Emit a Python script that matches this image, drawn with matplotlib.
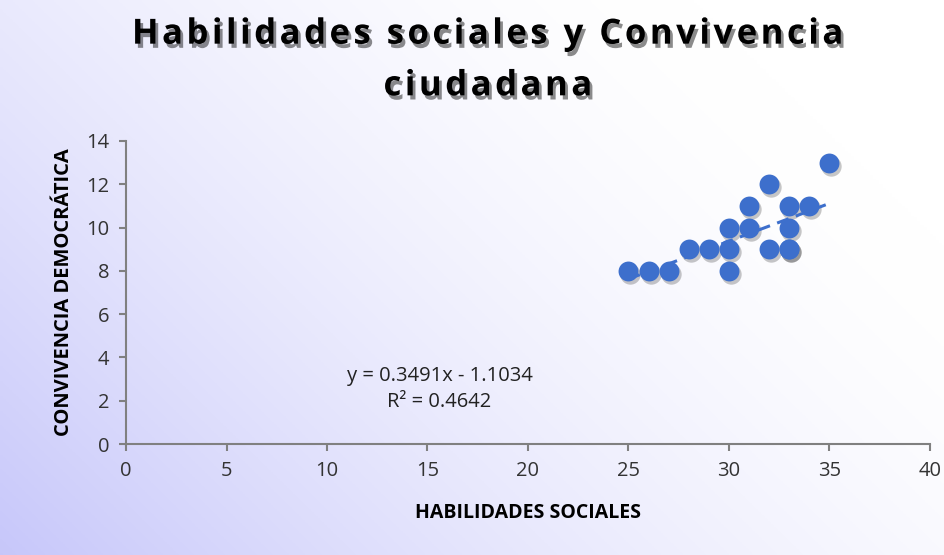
import matplotlib.pyplot as plt
import matplotlib.patheffects as pe
import matplotlib.transforms as mtransforms
import numpy as np

# Datos
habilidades = [25, 26, 27, 28, 29, 30, 30, 30, 31, 31, 32, 32, 33, 33, 33, 33, 34, 35]
convivencia = [8, 8, 8, 9, 9, 9, 10, 8, 10, 11, 12, 9, 9, 9, 10, 11, 11, 13]

# Línea de tendencia (Excel)
pendiente = 0.3491
intercepto = -1.1034
r2 = 0.4642

x_ticks = [0, 5, 10, 15, 20, 25, 30, 35, 40]
y_ticks = [0, 2, 4, 6, 8, 10, 12, 14]

fuente = ['Open Sans', 'DejaVu Sans']

fig = plt.figure(figsize=(9.44, 5.55), dpi=100)

# Fondo degradado (lila abajo-izquierda -> blanco arriba-derecha)
bg = fig.add_axes([0, 0, 1, 1], zorder=-1)
gx, gy = np.meshgrid(np.linspace(0, 1, 300), np.linspace(0, 1, 300))
t = np.clip(1 - (0.75 * gx + 0.45 * gy), 0, 1) ** 1.6
img = np.zeros((300, 300, 3))
img[..., 0] = 1 - t * (1 - 0.78)
img[..., 1] = 1 - t * (1 - 0.78)
img[..., 2] = 1 - t * (1 - 0.98)
bg.imshow(img, origin='lower', extent=[0, 1, 0, 1], aspect='auto')
bg.axis('off')

ax = fig.add_axes([0.1335, 0.2, 0.8515, 0.546])
ax.patch.set_alpha(0)

# sombra de los puntos
sombra = mtransforms.offset_copy(ax.transData, fig=fig, x=2, y=-3, units='dots')
ax.scatter(habilidades, convivencia, s=215, color='black', alpha=0.22,
           transform=sombra, linewidths=0, zorder=2)
ax.scatter(habilidades, convivencia, s=205, color='#3d6fcc', linewidths=0, zorder=3)

xs = np.array([min(habilidades), max(habilidades)])
ax.plot(xs, pendiente * xs + intercepto, linestyle='--', color='#3d6fcc',
        linewidth=2.2, dashes=(4, 2.5), zorder=4)

ax.text(15.6, 2.55, f"y = {pendiente}x - {abs(intercepto)}\nR² = {r2}",
        ha='center', va='center', fontsize=14.5, family=fuente, color='#222222',
        linespacing=1.4)

ax.set_xlim(0, 40)
ax.set_ylim(0, 14)
ax.set_xticks(x_ticks)
ax.set_yticks(y_ticks)
for s in ['top', 'right']:
    ax.spines[s].set_visible(False)
for s in ['left', 'bottom']:
    ax.spines[s].set_color('#808080')
    ax.spines[s].set_linewidth(1.5)
ax.tick_params(colors='#808080', width=1.5, length=5, labelsize=14.5,
               labelcolor='#333333', pad=7)
for lab in ax.get_xticklabels() + ax.get_yticklabels():
    lab.set_family(fuente)

ax.set_xlabel('HABILIDADES SOCIALES', fontsize=14, fontweight='bold',
              family=fuente, labelpad=16)
ax.set_ylabel('CONVIVENCIA DEMOCRÁTICA', fontsize=14.5, fontweight='bold',
              family=fuente, labelpad=9)

titulo = 'Habilidades sociales y Convivencia\nciudadana'
titulo_espaciado = '\n'.join('\u200a'.join(linea) for linea in titulo.split('\n'))
fig.text(0.517, 0.897 - 0.006, titulo_espaciado, ha='center',
         va='center', fontsize=25, fontweight='bold', family=fuente,
         linespacing=1.58,
         path_effects=[pe.SimplePatchShadow(offset=(2, -3), alpha=0.45), pe.Normal()])

fig.savefig('out.png', dpi=100)
